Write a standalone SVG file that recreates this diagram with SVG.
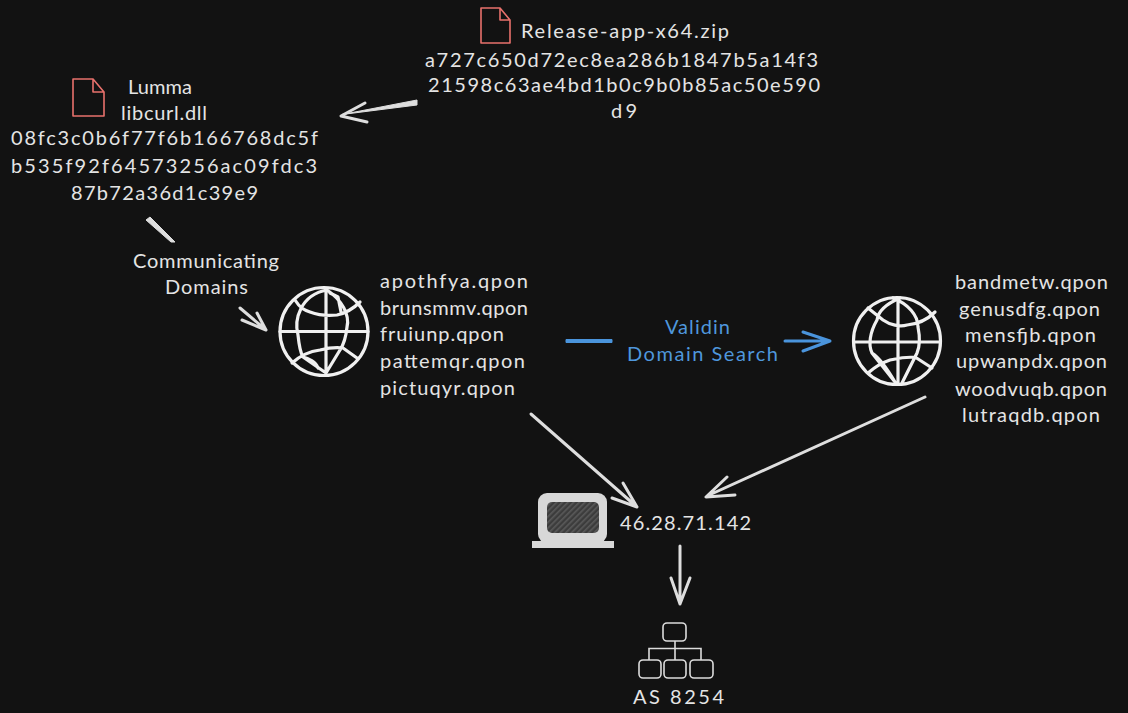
<svg xmlns="http://www.w3.org/2000/svg" width="1128" height="713" viewBox="0 0 1128 713">
<style>
text{font-family:"Lato","Open Sans",sans-serif;font-size:20px;fill:#e4e4e4}
.b{fill:#4f97dc}
.line{fill:none;stroke:#dedede;stroke-width:3;stroke-linecap:round;stroke-linejoin:round}
.shaft{fill:#dedede;stroke:#dedede;stroke-width:1;stroke-linejoin:round}
.bl{fill:none;stroke:#4a94dc;stroke-width:3;stroke-linecap:round;stroke-linejoin:round}
.file{fill:none;stroke:#e8716c;stroke-width:1.6;stroke-linejoin:round}
.gl{fill:none;stroke:#f0f0f0;stroke-width:3.200;stroke-linecap:round;stroke-linejoin:round}
.org{fill:none;stroke:#dcdcdc;stroke-width:1.600}
</style>
<defs>
<pattern id="h" width="4" height="4" patternUnits="userSpaceOnUse" patternTransform="rotate(45)"><rect width="4" height="4" fill="#3c3c3c"/><rect width="1.600" height="4" fill="#5a5a5a"/></pattern>
</defs>
<rect width="1128" height="713" fill="#121212"/>
<g id="connectors">
<path class="shaft" d="M417 100L342 114.500L417 105Z"/>
<path class="line" d="M365 103L341 116L367 122"/>
<path class="shaft" d="M146 220L150 217L175 242L171 242Z"/>
<path class="line" d="M240 308L266 330M242 320L266 330L257 313"/>
<path class="shaft" style="fill:#4a94dc;stroke:#4a94dc" d="M566 339.500H612V342.500H566Z"/>
<path class="bl" d="M785 341H830M803 332L830 341L803 351"/>
<path class="line" d="M531 414L637 507M612 498L637 507L623 483"/>
<path class="line" d="M925 397L707 496M727 477L706 497L735 495"/>
<path class="line" d="M680 546V604M671 578L680 604L690 578"/>
</g>
<g id="release">
<path class="file" d="M481 8H500L510 20V43H481ZM500 8V20H510"/>
<text x="521" y="38" textLength="208">Release-app-x64.zip</text>
<text x="425" y="67" textLength="393">a727c650d72ec8ea286b1847b5a14f3</text>
<text x="428" y="92" textLength="392">21598c63ae4bd1b0c9b0b85ac50e590</text>
<text x="611" y="118" textLength="26">d9</text>
</g>
<g id="lumma">
<path class="file" d="M73 79H93L104 92V116H73ZM93 79V92H104"/>
<text x="128" y="94" textLength="64">Lumma</text>
<text x="121" y="120" textLength="86">libcurl.dll</text>
<text x="11" y="145" textLength="307">08fc3c0b6f77f6b166768dc5f</text>
<text x="11" y="173" textLength="306">b535f92f64573256ac09fdc3</text>
<text x="71" y="200" textLength="187">87b72a36d1c39e9</text>
</g>
<g id="edge-label">
<text x="133" y="268" textLength="146">Communicating</text>
<text x="165" y="294" textLength="83">Domains</text>
</g>
<g id="domains-left">
<g class="gl">
<circle cx="324" cy="331.500" r="44"/>
<path d="M280 331.500H368M326 290V373M327 290C300 295 294 320 298 335C299 345 300 352 303 357L326 373M327 290C342 300 350 315 347 327C346 337 344 344 340 350L326 373M295 300C300 308 304 310 310 312C318 315 328 316 337 315C346 313 354 308 360 302M330 293L338 297L341 312M292 363C302 354 312 351 320 350C328 348 336 347 343 348L357 358M303 357C308 358 316 362 318 368"/>
</g>
<text x="380" y="288" textLength="148">apothfya.qpon</text>
<text x="380" y="315" textLength="148">brunsmmv.qpon</text>
<text x="380" y="341" textLength="124">fruiunp.qpon</text>
<text x="380" y="368" textLength="145">pattemqr.qpon</text>
<text x="380" y="395" textLength="135">pictuqyr.qpon</text>
</g>
<g id="validin">
<text class="b" x="665" y="334" textLength="65">Validin</text>
<text class="b" x="627" y="361" textLength="151">Domain Search</text>
</g>
<g id="domains-right">
<g class="gl">
<circle cx="897" cy="341" r="43.500"/>
<path d="M854 342H940M898 298V384M900 298C886 304 878 312 877 320C870 332 868 345 872 353L895 382M893 298C908 304 918 315 918 327C920 337 920 346 917 353L902 383M868 308L883 320C890 325 900 327 907 325C918 324 928 319 935 312M868 373C876 366 884 362 890 360C898 358 908 357 915 357L932 368M872 353C880 358 888 370 895 382"/>
</g>
<text x="955" y="289" textLength="153">bandmetw.qpon</text>
<text x="959" y="316" textLength="141">genusdfg.qpon</text>
<text x="965" y="342" textLength="131">mensfjb.qpon</text>
<text x="956" y="368" textLength="151">upwanpdx.qpon</text>
<text x="955" y="396" textLength="152">woodvuqb.qpon</text>
<text x="962" y="422" textLength="138">lutraqdb.qpon</text>
</g>
<g id="ip">
<rect x="538" y="493" width="69" height="50" rx="9" fill="#d8d8d8"/>
<rect x="547" y="502" width="52" height="31" rx="5" fill="url(#h)"/>
<rect x="532" y="541" width="82" height="7" fill="#d8d8d8"/>
<text x="620" y="530" textLength="131">46.28.71.142</text>
</g>
<g id="as">
<rect class="org" x="663" y="623" width="23" height="18" rx="4"/>
<path class="org" d="M675 641V660M649 660V648.500H701V660"/>
<rect class="org" x="639" y="660" width="22" height="18" rx="4"/>
<rect class="org" x="664" y="660" width="22" height="18" rx="4"/>
<rect class="org" x="690" y="660" width="23" height="18" rx="4"/>
<text x="633" y="704" textLength="91">AS 8254</text>
</g>
</svg>
